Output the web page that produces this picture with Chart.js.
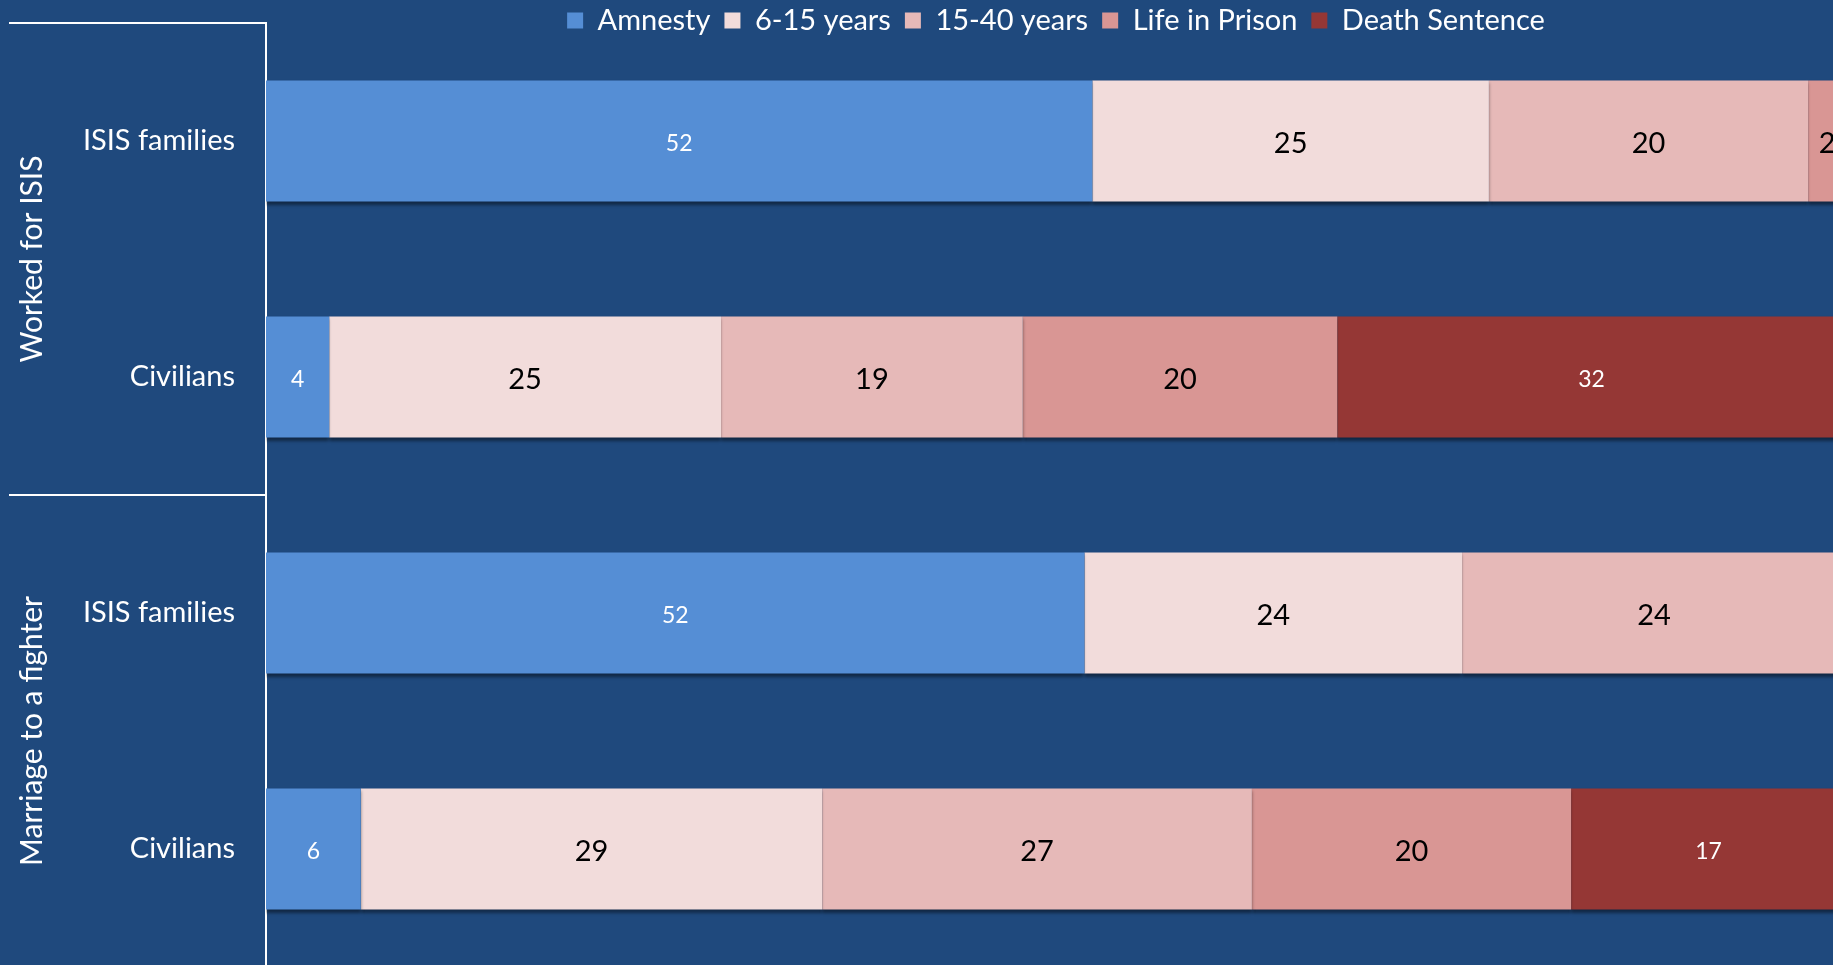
<!DOCTYPE html>
<html>
<head>
<meta charset="utf-8">
<script src="https://cdn.jsdelivr.net/npm/chart.js@4"></script>
<style>
  html, body { margin: 0; padding: 0; background: #1F497D; overflow: hidden; width: 1833px; height: 965px; }
  #wrap { position: absolute; left: 0; top: 0; }
</style>
</head>
<body>
<div id="wrap"><canvas id="sentenceChart" width="1846" height="967"></canvas></div>
<script>
// rows, top to bottom
const categories = ['ISIS families', 'Civilians', 'ISIS families', 'Civilians'];
const groups = ['Worked for ISIS', 'Marriage to a fighter'];

// share of respondents (%) per sentence
const amnesty = [52.3, 4.0, 51.8, 6.0];
const years6to15 = [25.1, 24.8, 23.9, 29.2];
const years15to40 = [20.2, 19.1, 24.3, 27.2];
const lifeInPrison = [2.4, 19.9, 0, 20.2];
const deathSentence = [0, 32.2, 0, 17.4];

const FONT = 'Lato';

// values on the dark segments are white and smaller, on the light ones black
const barLabels = {
    id: 'barLabels',
    beforeDatasetsDraw(chart) {
        const ctx = chart.ctx;
        ctx.save();
        ctx.shadowColor = 'rgba(0, 0, 0, 0.45)';
        ctx.shadowBlur = 3;
        ctx.shadowOffsetY = 3;
    },
    afterDatasetsDraw(chart) {
        const ctx = chart.ctx;
        ctx.restore();
        ctx.save();
        ctx.textAlign = 'center';
        ctx.textBaseline = 'middle';
        chart.data.datasets.forEach((ds, i) => {
            const meta = chart.getDatasetMeta(i);
            meta.data.forEach((bar, j) => {
                const v = ds.data[j];
                if (!v) return;
                const p = bar.getCenterPoint();
                if (ds.darkBar) {
                    ctx.fillStyle = '#ffffff';
                    ctx.font = '23px ' + FONT;
                } else {
                    ctx.fillStyle = '#000000';
                    ctx.font = '29px ' + FONT;
                }
                ctx.fillText(Math.round(v), p.x, p.y + 3);
            });
        });
        ctx.restore();
    }
};

// two-level axis: group separators and rotated group names
const groupAxis = {
    id: 'groupAxis',
    afterDraw(chart) {
        const ctx = chart.ctx;
        const y = chart.scales.y;
        ctx.save();
        ctx.strokeStyle = '#ffffff';
        ctx.lineWidth = 2;
        groups.forEach((g, k) => {
            const top = y.getPixelForValue(k * 2 - 0.5);
            const bottom = y.getPixelForValue(k * 2 + 1.5);
            ctx.beginPath();
            ctx.moveTo(9, top);
            ctx.lineTo(y.right, top);
            ctx.stroke();

            ctx.save();
            ctx.translate(32, (top + bottom) / 2);
            ctx.rotate(-Math.PI / 2);
            ctx.fillStyle = '#ffffff';
            ctx.font = '30px ' + FONT;
            ctx.textAlign = 'center';
            ctx.textBaseline = 'middle';
            ctx.fillText(g, 0, 0);
            ctx.restore();
        });
        ctx.restore();
    }
};

// the legend only takes 23px of the layout, its text hangs down beside the plot
const legendHeight = {
    id: 'legendHeight',
    beforeInit(chart) {
        const fit = chart.legend.fit;
        chart.legend.fit = function() {
            fit.bind(chart.legend)();
            this.height = 23;
        };
    },
    afterLayout(chart) {
        chart.legend.top = -8;
        chart.legend.bottom = 45;
    }
};

new Chart(document.getElementById('sentenceChart'), {
    type: 'bar',
    data: {
        labels: categories,
        datasets: [{
            label: 'Amnesty',
            data: amnesty,
            backgroundColor: '#558ED5',
            darkBar: true
        }, {
            label: '6-15 years',
            data: years6to15,
            backgroundColor: '#F2DCDB'
        }, {
            label: '15-40 years',
            data: years15to40,
            backgroundColor: '#E6B9B8'
        }, {
            label: 'Life in Prison',
            data: lifeInPrison,
            backgroundColor: '#D99694'
        }, {
            label: 'Death Sentence',
            data: deathSentence,
            backgroundColor: '#953735',
            darkBar: true
        }]
    },
    options: {
        indexAxis: 'y',
        responsive: false,
        animation: false,
        categoryPercentage: 0.513,
        barPercentage: 1,
        borderWidth: 0,
        layout: {
            padding: 0
        },
        plugins: {
            legend: {
                position: 'top',
                fullSize: false,
                labels: {
                    color: '#ffffff',
                    boxWidth: 16,
                    boxHeight: 16,
                    padding: 14,
                    font: { family: FONT, size: 29 }
                }
            },
            tooltip: { enabled: false }
        },
        scales: {
            x: {
                stacked: true,
                display: false,
                min: 0,
                max: 100
            },
            y: {
                stacked: true,
                grid: { display: false, drawTicks: false },
                border: { display: true, color: '#ffffff', width: 2 },
                ticks: {
                    color: '#ffffff',
                    padding: 31,
                    font: { family: FONT, size: 29 }
                },
                afterFit(scale) {
                    scale.width = 266;
                    scale.paddingTop = 0;
                    scale.paddingBottom = 0;
                }
            }
        }
    },
    plugins: [barLabels, groupAxis, legendHeight]
});
</script>
</body>
</html>
